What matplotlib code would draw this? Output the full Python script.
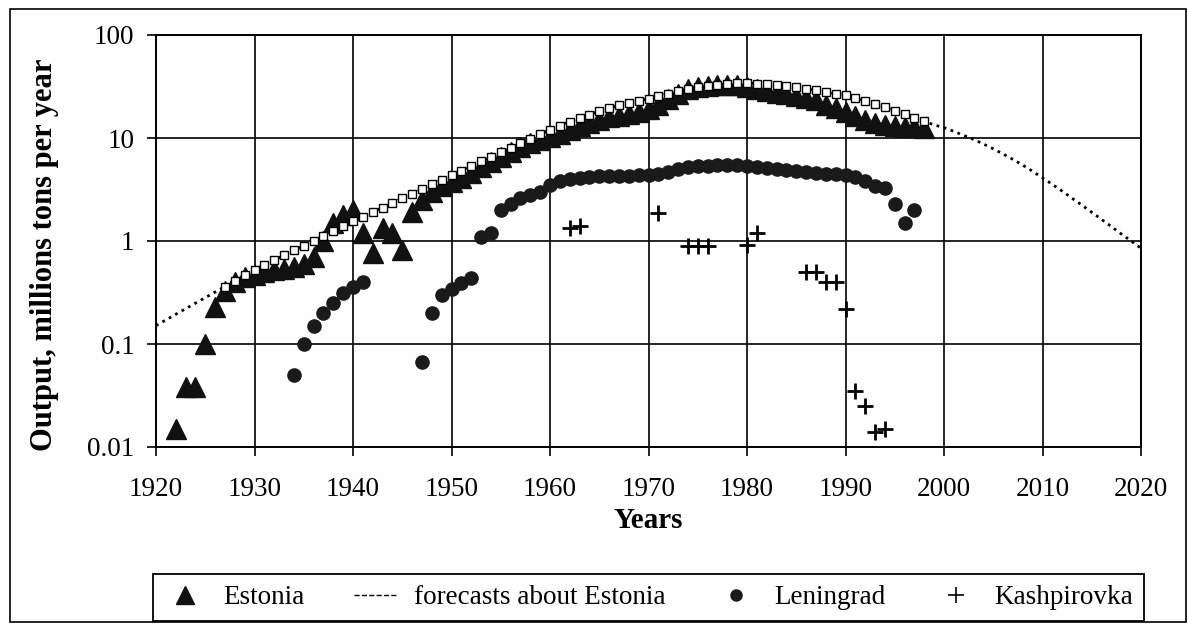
import matplotlib
matplotlib.use("Agg")
import matplotlib.pyplot as plt
from matplotlib.lines import Line2D
from matplotlib.patches import Rectangle
from matplotlib.ticker import NullLocator

plt.rcParams["font.family"] = ["Liberation Serif", "DejaVu Serif"]

# Estonia, 1922-1998 (millions of tons per year)
estonia_years = list(range(1922, 1999))
estonia_vals = [
    0.015, 0.038, 0.038, 0.10, 0.23, 0.33, 0.40, 0.45, 0.47, 0.50,
    0.52, 0.53, 0.56, 0.60, 0.70, 1.0, 1.5, 1.8, 2.0, 1.2,
    0.77, 1.35, 1.2, 0.82, 1.9, 2.5, 3.0, 3.4, 3.7, 4.1,
    4.6, 5.2, 5.8, 6.5, 7.3, 8.1, 8.9, 9.6, 10.2, 11.0,
    12.0, 13.0, 14.0, 15.0, 16.0, 16.5, 17.0, 18.0, 19.0, 21.0,
    24.0, 27.0, 30.0, 31.0, 32.0, 33.0, 33.0, 33.0, 31.0, 30.0,
    28.5, 27.5, 26.5, 25.5, 24.5, 23.5, 21.0, 19.5, 18.0, 16.5,
    15.0, 14.0, 13.5, 13.0, 12.8, 12.8, 12.5,
]

# forecast curve for Estonia, 1920-2020
forecast_years = list(range(1920, 2021))
forecast_vals = [
    0.151, 0.171, 0.194, 0.220, 0.249, 0.282, 0.319, 0.361, 0.409, 0.463,
    0.525, 0.585, 0.652, 0.726, 0.809, 0.902, 1.005, 1.12, 1.25, 1.39,
    1.55, 1.72, 1.91, 2.11, 2.34, 2.60, 2.88, 3.20, 3.55, 3.94,
    4.37, 4.83, 5.35, 5.92, 6.55, 7.24, 8.02, 8.87, 9.82, 10.9,
    12.0, 13.2, 14.4, 15.6, 16.9, 18.2, 19.5, 20.8, 22.0, 23.0,
    24.0, 25.5, 27.0, 28.5, 30.0, 31.0, 32.0, 33.0, 33.5, 34.0,
    34.0, 33.8, 33.4, 32.8, 32.0, 31.0, 30.0, 29.0, 28.0, 27.0,
    26.0, 24.6, 23.0, 21.5, 19.9, 18.4, 17.0, 15.7, 14.5, 13.4,
    12.6, 11.6, 10.6, 9.7, 8.75, 7.85, 7.0, 6.2, 5.45, 4.75,
    4.1, 3.55, 3.05, 2.6, 2.23, 1.9, 1.62, 1.38, 1.17, 1.0,
    0.85,
]

# Leningrad
leningrad_years = list(range(1934, 1942)) + list(range(1947, 1998))
leningrad_vals = [
    0.05, 0.10, 0.15, 0.20, 0.25, 0.31, 0.36, 0.40,
    0.067, 0.20, 0.30, 0.34, 0.39, 0.44, 1.1, 1.2, 2.0, 2.3,
    2.6, 2.8, 3.0, 3.5, 3.8, 4.0, 4.1, 4.2, 4.3, 4.3,
    4.3, 4.3, 4.4, 4.4, 4.5, 4.7, 5.0, 5.2, 5.3, 5.4,
    5.5, 5.5, 5.5, 5.4, 5.2, 5.1, 5.0, 4.9, 4.8, 4.7,
    4.6, 4.5, 4.5, 4.4, 4.2, 3.8, 3.4, 3.3, 2.3, 1.5,
    2.0,
]

# Kashpirovka
kash_years = [1962, 1963, 1971, 1974, 1975, 1976, 1980, 1981, 1986,
              1987, 1988, 1989, 1990, 1991, 1992, 1993, 1994]
kash_vals = [1.35, 1.4, 1.85, 0.9, 0.9, 0.9, 0.92, 1.2, 0.5,
             0.5, 0.4, 0.4, 0.22, 0.035, 0.025, 0.014, 0.015]

W, H = 1188, 633
fig = plt.figure(figsize=(W / 100, H / 100), dpi=100, facecolor="white")
ax = fig.add_axes([156 / W, 1 - 447 / H, 985 / W, 412 / H])
ax.set_yscale("log")

ax.plot(estonia_years, estonia_vals, ls="none", marker="^", ms=15,
        color="#111111", zorder=3)
ax.plot(forecast_years, forecast_vals, ls=":", lw=2, color="black",
        marker="s", ms=5.5, mfc="white", mec="black", mew=1,
        markevery=slice(7, 79), zorder=4)
ax.plot(leningrad_years, leningrad_vals, ls="none", marker="o", ms=9.5,
        color="#1a1a1a", zorder=3)
ax.plot(kash_years, kash_vals, ls="none", marker="+", ms=12, mew=2,
        color="black", zorder=3)

ax.set_xlim(1920, 2020)
ax.set_ylim(0.01, 100)
ax.set_xticks(range(1920, 2021, 10))
ax.set_yticks([0.01, 0.1, 1, 10, 100])
ax.set_yticklabels(["0.01", "0.1", "1", "10", "100"])
ax.yaxis.set_minor_locator(NullLocator())
ax.grid(True, color="black", lw=1.2)
ax.set_axisbelow(True)
ax.tick_params(axis="both", direction="out", length=6.5, width=1.2,
               labelsize=19.5, colors="black")
ax.tick_params(axis="y", pad=9)
ax.tick_params(axis="x", pad=15)
for s in ax.spines.values():
    s.set_linewidth(1.4); s.set_color("black")

fig.text(45 / W, 1 - 255 / H, "Output, millions tons per year", rotation=90,
         ha="center", va="center", fontsize=22, fontweight="bold")
fig.text(648 / W, 1 - 521 / H, "Years", ha="center", va="center",
         fontsize=21, fontweight="bold")

handles = [
    Line2D([], [], ls="none", marker="^", ms=13, color="#111111"),
    Line2D([], [], ls="--", lw=1, color="black"),
    Line2D([], [], ls="none", marker="o", ms=8, color="#1a1a1a"),
    Line2D([], [], ls="none", marker="+", ms=12, mew=1.2, color="black"),
]
labels = ["Estonia", "forecasts about Estonia", "Leningrad", "Kashpirovka"]
leg = fig.legend(handles, labels, loc="center", ncol=4, mode="expand",
                 bbox_to_anchor=(153 / W, 1 - 623 / H, 991 / W, 51 / H),
                 fontsize=19.5, frameon=True, fancybox=False,
                 edgecolor="black", framealpha=1, borderaxespad=0,
                 handlelength=1.6, handletextpad=0.6)
leg.get_frame().set_linewidth(1.3)

fig.patches.append(Rectangle((10 / W, 1 - 622 / H), 1176 / W, 613 / H,
                             transform=fig.transFigure, fill=False,
                             lw=1.2, ec="black"))

fig.savefig("out.png", dpi=100, facecolor="white")
